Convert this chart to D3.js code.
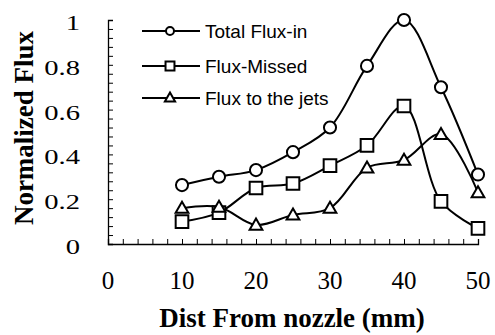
<!DOCTYPE html>
<html>
<head>
<meta charset="utf-8">
<script src="https://cdn.jsdelivr.net/npm/d3@7/dist/d3.min.js"></script>
<style>
  html, body { margin: 0; padding: 0; background: #fff; }
  svg { display: block; }
</style>
</head>
<body>
<svg id="chart" width="495" height="335"></svg>
<script>
// Distance from nozzle (mm)
const dist = [10, 15, 20, 25, 30, 35, 40, 45, 50];
// Normalized flux series
const totalFluxIn = [0.263, 0.30, 0.33, 0.41, 0.52, 0.795, 1.0, 0.70, 0.31];
const fluxMissed = [0.10, 0.14, 0.25, 0.27, 0.35, 0.44, 0.616, 0.19, 0.07];
const fluxToJets = [0.16, 0.165, 0.085, 0.13, 0.16, 0.34, 0.375, 0.49, 0.23];
const seriesNames = ["Total Flux-in", "Flux-Missed", "Flux to the jets"];
const xTickLabels = [0, 10, 20, 30, 40, 50];
const yTickLabels = [0, 0.2, 0.4, 0.6, 0.8, 1];

const svg = d3.select("#chart");
const x = d3.scaleLinear().domain([0, 50]).range([108, 478]);
const y = d3.scaleLinear().domain([0, 1]).range([244, 20]);

const serif = "'Liberation Serif', 'Times New Roman', serif";
const sans = "'Liberation Sans', Arial, sans-serif";

// Axes with inward minor ticks
const xAxis = d3.axisBottom(x).tickValues(d3.range(0, 50.001, 2)).tickSize(-5).tickFormat("");
const gx = svg.append("g").attr("transform", `translate(0,${y(0)})`).call(xAxis);
const yAxis = d3.axisLeft(y).tickValues(d3.range(0, 1.0001, 0.04)).tickSize(-5).tickFormat("");
const gy = svg.append("g").attr("transform", `translate(${x(0)},0)`).call(yAxis);
[gx, gy].forEach(g => {
  g.select(".domain").attr("stroke", "#000").attr("stroke-width", 1.3);
  g.selectAll(".tick line").attr("stroke", "#000").attr("stroke-width", 1);
});

// Tick labels
svg.append("g").selectAll("text").data(xTickLabels).join("text")
  .attr("x", d => x(d)).attr("y", 289)
  .attr("text-anchor", "middle")
  .style("font-family", serif).style("font-size", "25px")
  .text(d => d);
svg.append("g").selectAll("text").data(yTickLabels).join("text")
  .attr("transform", d => `translate(80,${y(d) + 10}) scale(1.3,1)`)
  .attr("text-anchor", "end")
  .style("font-family", serif).style("font-size", "22px")
  .text(d => d);

// Axis titles
svg.append("text")
  .attr("x", 292).attr("y", 327)
  .attr("text-anchor", "middle")
  .style("font-family", serif).style("font-size", "27px").style("font-weight", "bold")
  .text("Dist From nozzle (mm)");
svg.append("text")
  .attr("transform", "translate(33,128) rotate(-90)")
  .attr("text-anchor", "middle")
  .style("font-family", serif).style("font-size", "27px").style("font-weight", "bold")
  .text("Normalized Flux");

const series = [totalFluxIn, fluxMissed, fluxToJets];
const markerTypes = [d3.symbolCircle, d3.symbolSquare, d3.symbolTriangle];
const markerSizes = [115, 160, 70];
const legendMarkerSizes = [50, 80, 45];

const line = d3.line()
  .x((d, i) => x(dist[i]))
  .y(d => y(d))
  .curve(d3.curveCatmullRom.alpha(0.5));

series.forEach(vals => {
  svg.append("path").datum(vals)
    .attr("d", line)
    .attr("fill", "none").attr("stroke", "#000").attr("stroke-width", 2);
});
series.forEach((vals, s) => {
  svg.append("g").selectAll("path").data(vals).join("path")
    .attr("transform", (d, i) => `translate(${x(dist[i])},${y(d) + (s === 2 ? 1 : 0)})`)
    .attr("d", d3.symbol().type(markerTypes[s]).size(markerSizes[s]))
    .attr("fill", "#fff").attr("stroke", "#000").attr("stroke-width", 2);
});

// Legend
const legendRows = [31, 66, 98];
seriesNames.forEach((name, s) => {
  const g = svg.append("g").attr("transform", `translate(0,${legendRows[s]})`);
  g.append("line").attr("x1", 142).attr("x2", 200).attr("y1", 0).attr("y2", 0)
    .attr("stroke", "#000").attr("stroke-width", 2);
  g.append("path")
    .attr("transform", `translate(170,${s === 2 ? 0.5 : 0})`)
    .attr("d", d3.symbol().type(markerTypes[s]).size(legendMarkerSizes[s]))
    .attr("fill", "#fff").attr("stroke", "#000").attr("stroke-width", 2);
  g.append("text").attr("x", 205).attr("y", 7)
    .style("font-family", sans).style("font-size", "19px")
    .text(name);
});
</script>
</body>
</html>
